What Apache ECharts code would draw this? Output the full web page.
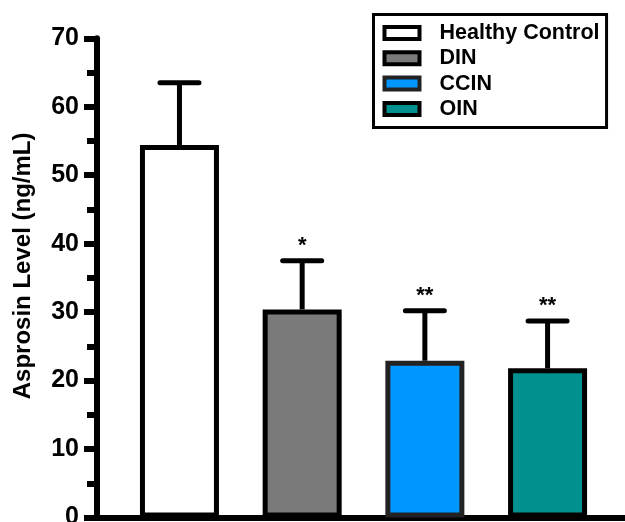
<!DOCTYPE html>
<html><head><meta charset="utf-8">
<script src="https://cdn.jsdelivr.net/npm/echarts@6/dist/echarts.min.js"></script>
<style>html,body{margin:0;padding:0;background:#fff}#c{width:625px;height:522px}</style>
</head><body><div id="c"></div>
<script>
const groups = ['Healthy Control', 'DIN', 'CCIN', 'OIN'];
const means = [54.4, 30.4, 22.9, 21.8];
const sds = [9.1, 7.1, 7.3, 6.9];
const sig = ['', '*', '**', '**'];
const fills = ['#ffffff', '#7a7a7a', '#0096ff', '#00918e'];
const borders = ['#000000', '#000000', '#222222', '#000000'];
const yTicks = [0, 10, 20, 30, 40, 50, 60, 70];
const yName = 'Asprosin Level (ng/mL)';

const FONT = 'Arial, "Liberation Sans", sans-serif';
const chart = echarts.init(document.getElementById('c'), null, {renderer: 'canvas'});

const barSeries = groups.map((g, i) => ({
  name: g,
  type: 'bar',
  barWidth: 79,
  barGap: '-100%',
  data: [[i, means[i]]],
  itemStyle: {color: fills[i], borderColor: borders[i], borderWidth: 5},
  z: 2,
  animation: false
}));

const errSeries = {
  type: 'custom',
  z: 3,
  animation: false,
  data: groups.map((g, i) => [i, means[i], sds[i]]),
  renderItem: function (params, api) {
    const i = params.dataIndex;
    const x = api.value(0), m = api.value(1), sd = api.value(2);
    const p0 = api.coord([x, m]);
    const p1 = api.coord([x, m + sd]);
    return {
      type: 'group',
      children: [
        {type: 'line', shape: {x1: p0[0], y1: p0[1], x2: p1[0], y2: p1[1]},
          style: {stroke: '#000', lineWidth: 5, fill: null}},
        {type: 'line', shape: {x1: p1[0] - 19.5, y1: p1[1], x2: p1[0] + 19.5, y2: p1[1]},
          style: {stroke: '#000', lineWidth: 5, lineCap: 'round'}},
        {type: 'text', x: p1[0], y: p1[1] - 4,
          style: {text: sig[i], fill: '#000', font: 'bold 22px ' + FONT,
            textAlign: 'center', textVerticalAlign: 'bottom'}}
      ]
    };
  }
};

chart.setOption({
  animation: false,
  backgroundColor: '#ffffff',
  grid: {left: 97, right: 0, top: 38.3, bottom: 4.5, containLabel: false, outerBoundsMode: 'none'},
  legend: {
    data: groups,
    orient: 'vertical',
    left: 373.5,
    top: 14.5,
    padding: [7.5, 7, 7.5, 9],
    itemGap: 3.3,
    itemWidth: 35,
    itemHeight: 12,
    icon: 'rect',
    borderColor: '#000',
    borderWidth: 3,
    backgroundColor: '#fff',
    itemStyle: {borderWidth: 4},
    textStyle: {fontFamily: FONT, fontWeight: 'bold', fontSize: 21.5, color: '#000',
      lineHeight: 21, padding: [0, 0, 0, 15]}
  },
  xAxis: {
    type: 'value',
    min: -0.672,
    max: 3.631,
    axisLine: {show: true, onZero: false, lineStyle: {color: '#000', width: 6, cap: 'butt'}},
    axisTick: {show: false},
    axisLabel: {show: false},
    splitLine: {show: false}
  },
  yAxis: {
    type: 'value',
    min: yTicks[0],
    max: yTicks[yTicks.length - 1],
    interval: yTicks[1] - yTicks[0],
    name: yName,
    nameLocation: 'middle',
    nameGap: 62,
    nameTextStyle: {fontFamily: FONT, fontWeight: 'bold', fontSize: 24, color: '#000',
      padding: [0, 0, 0, 24]},
    axisLine: {show: true, onZero: false, lineStyle: {color: '#000', width: 6}},
    axisTick: {show: true, length: 13, lineStyle: {color: '#000', width: 6}},
    minorTick: {show: true, splitNumber: 2, length: 10, lineStyle: {color: '#000', width: 6}},
    axisLabel: {fontFamily: FONT, fontWeight: 'bold', fontSize: 25, color: '#000', margin: 18},
    splitLine: {show: false},
    minorSplitLine: {show: false}
  },
  series: barSeries.concat([errSeries])
});
</script></body></html>
